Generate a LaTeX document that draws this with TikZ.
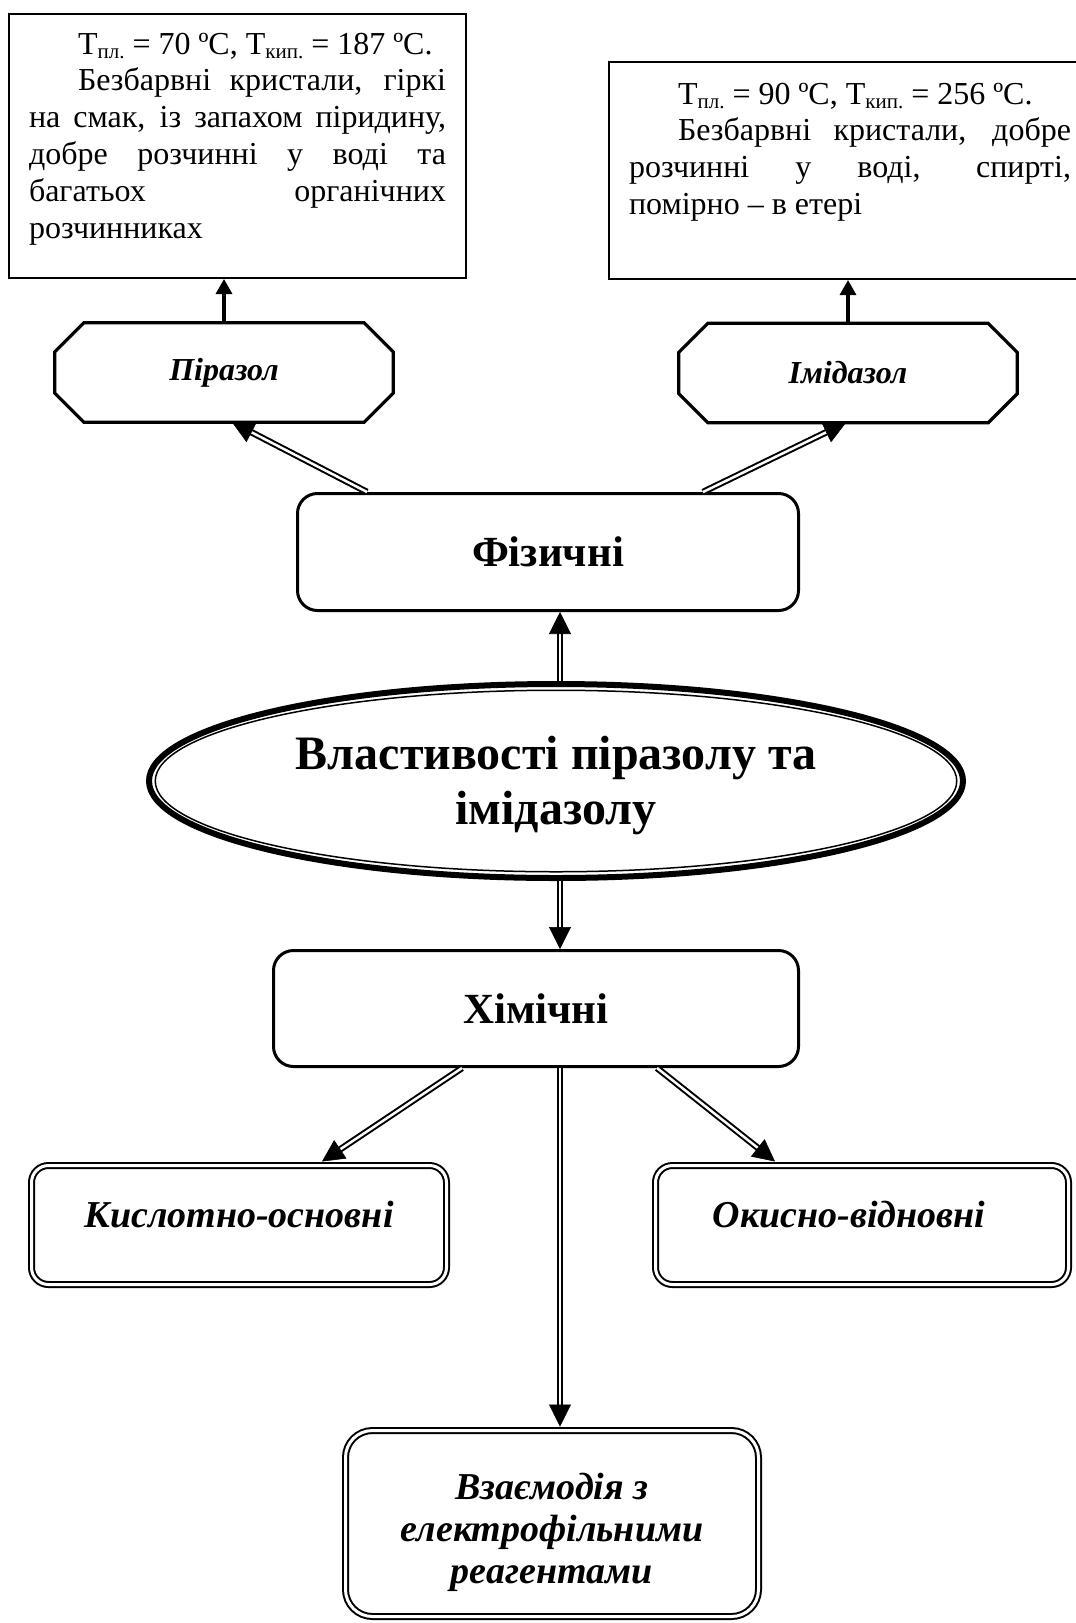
\documentclass[tikz,border=0pt]{standalone}
\usepackage{fontspec}
\setmainfont{Liberation Serif}
\usetikzlibrary{arrows.meta,calc,shapes.geometric}

% subscript index set smaller and slightly lowered
\newcommand\lowidx[1]{\raisebox{-0.14em}{\fontsize{21pt}{21pt}\selectfont #1}}
\newcommand\fsz[2]{\fontsize{#1pt}{#2pt}\selectfont}

% chamfered outline around a (borderless) node
\newcommand\drawocta[1]{%
  \draw[octline] ([xshift=29pt]#1.north west) -- ([xshift=-29pt]#1.north east)
    -- ([yshift=-29pt]#1.north east) -- ([yshift=29pt]#1.south east)
    -- ([xshift=-29pt]#1.south east) -- ([xshift=29pt]#1.south west)
    -- ([yshift=29pt]#1.south west) -- ([yshift=-29pt]#1.north west) -- cycle;}

% double-line connector with a solid triangular head
\newcommand\dblarrow[2]{%
  \draw[shaft] (#1) -- ($(#2)!19pt!(#1)$);
  \draw[headline] ($(#2)!21pt!(#1)$) -- (#2);}

\tikzset{
  txtbox/.style={draw, line width=2pt, inner xsep=20pt, inner ysep=0pt, anchor=north west},
  octabase/.style={inner sep=0pt, minimum width=338pt, minimum height=99pt,
    font=\bfseries\itshape\fsz{32}{37}},
  octline/.style={line width=3.3pt, line join=miter},
  catbox/.style={draw, line width=3pt, rounded corners=20pt, inner sep=0pt,
    font=\bfseries\fsz{43}{49}},
  titlenode/.style={ellipse, draw, line width=6pt, inner sep=0pt,
    font=\bfseries\fsz{48}{55}},
  dblbox/.style={draw, double=white, line width=2pt, double distance=3pt,
    rounded corners=17pt, inner sep=0pt,
    font=\bfseries\itshape\fsz{38}{42}},
  shaft/.style={draw, double=white, line width=2pt, double distance=2.5pt},
  headline/.style={line width=0.6pt, -{Triangle[length=22pt,width=22pt]}},
  plainarrow/.style={line width=3.3pt, -{Triangle[length=15pt,width=16pt]}},
}

\begin{document}
\begin{tikzpicture}[x=1pt, y=-1pt, font=\fsz{32}{36.8}]
\useasboundingbox (0,0) rectangle (1076,1623);
\clip (0,0) rectangle (1076,1623);

% property boxes
\node[txtbox] (propL) at (8,13) {\parbox[t][264pt][t]{417pt}{\setlength{\parindent}{49pt}%
  \rule{0pt}{40pt}Т\lowidx{пл.} = 70 ºС, Т\lowidx{кип.} = 187 ºС.\par
  Безбарвні кристали, гіркі\linebreak
  на смак, із запахом піридину,\linebreak
  добре розчинні у воді та\linebreak
  багатьох органічних\linebreak
  розчинниках}};

\node[txtbox] (propR) at (608,61) {\parbox[t][217pt][t]{442pt}{\setlength{\parindent}{49pt}%
  \rule{0pt}{42pt}Т\lowidx{пл.} = 90 ºС, Т\lowidx{кип.} = 256 ºС.\par
  Безбарвні кристали, добре\linebreak
  розчинні у воді, спирті,\linebreak
  помірно – в етері}};

% compounds
\node[octabase] (piraz) at (224,372.5) {Піразол};
\drawocta{piraz}
\node[octabase] (imid) at (848,373) {Імідазол};
\drawocta{imid}

% categories
\node[catbox, minimum width=501pt, minimum height=117pt] (fiz) at (548,552) {Фізичні};
\node[titlenode, minimum width=814pt, minimum height=194pt] (title) at (556,781)
  {\raisebox{-5pt}[\height][\depth]{\parbox{560pt}{\centering Властивості піразолу та\\імідазолу}}};
\draw[line width=1.5pt] (title.center) ellipse [x radius=400.75pt, y radius=90.75pt];
\node[catbox, minimum width=525pt, minimum height=116pt] (chem) at (536,1008.5) {Хімічні};

\node[dblbox, minimum width=415pt, minimum height=119pt, text height=25pt, text depth=21pt]
  (kisl) at (239,1225) {Кислотно-основні};
\node[dblbox, minimum width=413pt, minimum height=119pt, text height=25pt, text depth=21pt]
  (okys) at (862,1225) {Окисно-відновні\hspace*{26pt}};
\node[dblbox, rounded corners=27pt, minimum width=413pt, minimum height=186pt]
  (react) at (552,1523.5)
  {\raisebox{-9pt}[\height][\depth]{\parbox{380pt}{\centering Взаємодія з\\електрофільними\\реагентами}}};

% attachment points
\coordinate (spine) at (560,0);
\coordinate (fizL) at ([xshift=-181pt]fiz.north);
\coordinate (fizR) at ([xshift=155pt]fiz.north);
\coordinate (pirazIn) at ([xshift=8pt]piraz.south);
\coordinate (imidIn) at ([xshift=-2pt]imid.south);
\coordinate (titleTop) at (title.north -| spine);
\coordinate (titleBot) at (title.south -| spine);
\coordinate (fizIn) at (fiz.south -| spine);
\coordinate (chemIn) at (chem.north -| spine);
\coordinate (chemL) at ([xshift=-74pt]chem.south);
\coordinate (chemR) at ([xshift=121pt]chem.south);
\coordinate (chemM) at (chem.south -| spine);
\coordinate (kislIn) at ([xshift=83pt, yshift=3pt]kisl.north);
\coordinate (okysIn) at ([xshift=-87pt, yshift=3pt]okys.north);
\coordinate (reactIn) at ([yshift=3pt]react.north -| spine);

% connectors
\draw[plainarrow] (piraz.north) -- (piraz.north |- propL.south);
\draw[plainarrow] (imid.north) -- (imid.north |- propR.south);
\dblarrow{fizL}{pirazIn}
\dblarrow{fizR}{imidIn}
\dblarrow{titleTop}{fizIn}
\dblarrow{titleBot}{chemIn}
\dblarrow{chemL}{kislIn}
\dblarrow{chemR}{okysIn}
\dblarrow{chemM}{reactIn}
\end{tikzpicture}
\end{document}
